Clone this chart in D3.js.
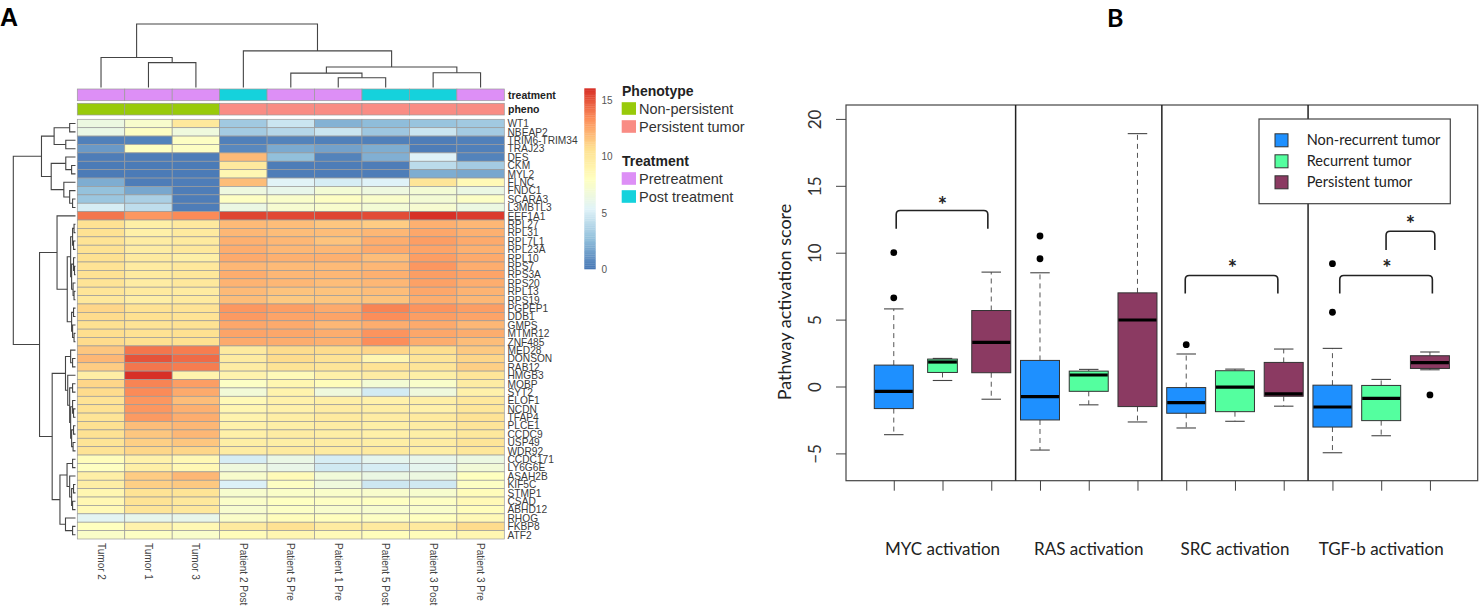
<!DOCTYPE html>
<html lang="en">
<head>
    <meta charset="UTF-8" />
    <title>Heatmap and pathway activation</title>
    <style>
        html, body { margin: 0; padding: 0; background: white; }
        svg { display: block; }
        .hm text { font-family: "Liberation Sans", Arial, sans-serif; }
        .bp text { font-family: Lato, "Open Sans", sans-serif; }
    </style>
</head>
<body>
    <svg id="svg" width="1482" height="613"></svg>
    <script src="https://cdn.jsdelivr.net/npm/d3@7"></script>
    <script>
        // ---------- panel A data ----------
        const genes = ["WT1", "NBEAP2", "TRIM6-TRIM34", "TRAJ23", "DES", "CKM", "MYL2", "FLNC", "FNDC1", "SCARA3",
            "L3MBTL3", "EEF1A1", "RPL27", "RPL31", "RPL7L1", "RPL23A", "RPL10", "RPS7", "RPS3A", "RPS20",
            "RPL13", "RPS19", "PGPEP1", "DDB1", "GMPS", "MTMR12", "ZNF485", "MED28", "DONSON", "RAB12",
            "HMGB3", "MOBP", "SYT2", "ELOF1", "NCDN", "TFAP4", "PLCE1", "CCDC9", "USP49", "WDR92",
            "CCDC171", "LY6G6E", "ASAH2B", "KIF5C", "STMP1", "CSAD", "ABHD12", "RHOG", "FKBP8", "ATF2"];
        const samples = ["Tumor 2", "Tumor 1", "Tumor 3", "Patient 2 Post", "Patient 5 Pre", "Patient 1 Pre",
            "Patient 5 Post", "Patient 3 Post", "Patient 3 Pre"];
        const treatment = ["Pre", "Pre", "Pre", "Post", "Pre", "Pre", "Post", "Post", "Pre"];
        const pheno = ["Non", "Non", "Non", "Persist", "Persist", "Persist", "Persist", "Persist", "Persist"];
        const expression = [
            [6.4, 7.4, 10.0, 3.2, 4.6, 2.2, 2.6, 2.9, 3.2],
            [6.2, 7.8, 6.6, 3.3, 3.9, 4.6, 3.1, 4.6, 3.3],
            [0.4, 0.5, 7.8, 0.4, 0.5, 0.4, 0.4, 0.3, 0.4],
            [1.3, 7.9, 7.8, 0.7, 1.9, 1.6, 2.0, 0.3, 0.4],
            [0.3, 0.3, 0.3, 11.9, 2.7, 0.5, 2.1, 5.3, 0.5],
            [0.2, 0.2, 0.2, 9.9, 0.3, 0.3, 0.3, 4.1, 3.3],
            [0.2, 0.2, 0.2, 8.7, 0.3, 0.3, 0.3, 2.0, 1.8],
            [2.0, 0.3, 0.3, 11.8, 5.4, 5.0, 5.3, 10.2, 8.5],
            [2.8, 1.8, 0.3, 6.5, 6.0, 7.0, 6.5, 7.0, 6.3],
            [3.0, 3.5, 0.3, 7.8, 7.5, 7.8, 7.5, 7.0, 7.7],
            [5.0, 4.2, 0.3, 6.3, 7.2, 7.4, 7.0, 7.2, 6.4],
            [14.0, 13.0, 13.4, 15.4, 15.3, 15.4, 15.2, 16.0, 15.7],
            [10.5, 9.4, 9.9, 11.9, 11.8, 11.5, 11.3, 12.2, 12.0],
            [10.5, 9.3, 9.8, 12.0, 11.8, 11.8, 12.0, 12.5, 12.2],
            [10.4, 9.6, 9.8, 12.2, 12.0, 11.6, 12.3, 12.8, 12.4],
            [10.5, 9.6, 10.0, 12.3, 12.0, 12.0, 12.4, 12.6, 12.2],
            [10.6, 9.8, 9.4, 12.4, 12.2, 12.2, 11.8, 12.8, 12.4],
            [10.4, 9.7, 10.0, 12.0, 11.9, 11.9, 12.0, 13.0, 12.3],
            [10.5, 9.8, 10.1, 12.3, 12.0, 12.0, 12.2, 12.8, 12.6],
            [10.3, 9.6, 10.0, 12.1, 12.0, 11.8, 12.0, 12.7, 12.3],
            [10.2, 9.8, 9.7, 11.9, 11.6, 11.6, 11.8, 12.5, 12.1],
            [10.0, 9.5, 9.8, 11.8, 11.4, 11.5, 11.6, 12.3, 12.0],
            [11.0, 10.5, 10.4, 13.0, 12.8, 12.4, 13.6, 13.1, 12.8],
            [10.8, 10.6, 10.4, 12.9, 12.6, 12.6, 13.3, 12.8, 12.6],
            [10.6, 10.4, 10.5, 12.5, 12.4, 12.0, 12.3, 12.4, 12.0],
            [10.7, 10.5, 10.6, 12.6, 12.5, 12.3, 13.1, 12.5, 12.3],
            [10.8, 10.6, 10.6, 12.4, 12.3, 12.2, 13.3, 12.3, 11.8],
            [11.5, 14.0, 13.8, 9.8, 10.8, 10.8, 11.0, 10.7, 11.4],
            [12.0, 15.0, 14.3, 9.7, 10.8, 10.4, 8.8, 10.2, 11.0],
            [11.3, 14.0, 13.8, 9.6, 10.4, 10.2, 10.4, 10.2, 11.2],
            [9.5, 16.0, 9.0, 9.0, 8.4, 9.3, 9.6, 9.4, 10.2],
            [11.0, 13.6, 12.8, 7.7, 8.8, 8.3, 7.0, 7.5, 9.6],
            [10.8, 13.4, 12.4, 6.9, 9.0, 6.6, 4.9, 6.6, 9.2],
            [10.4, 13.0, 11.8, 8.5, 9.2, 9.4, 9.2, 9.4, 10.0],
            [10.5, 13.0, 12.2, 8.8, 9.2, 9.6, 9.5, 9.2, 10.1],
            [10.3, 12.9, 12.3, 9.0, 9.5, 9.8, 9.6, 9.8, 10.4],
            [10.6, 11.8, 12.0, 9.2, 9.4, 9.6, 9.4, 9.6, 10.2],
            [10.5, 11.5, 12.0, 9.3, 9.6, 9.5, 9.3, 9.4, 10.0],
            [10.3, 11.2, 11.5, 9.5, 9.5, 9.6, 9.5, 9.6, 10.2],
            [10.4, 11.0, 11.0, 9.6, 9.8, 9.7, 9.8, 9.5, 10.1],
            [8.2, 9.2, 8.6, 5.0, 6.2, 5.0, 5.8, 6.0, 6.4],
            [7.9, 9.4, 8.6, 6.6, 6.1, 4.8, 5.0, 5.8, 6.9],
            [9.4, 11.3, 12.0, 7.4, 8.4, 6.8, 6.3, 6.4, 8.0],
            [9.5, 11.2, 11.4, 5.2, 7.8, 6.6, 4.7, 4.8, 7.8],
            [8.8, 10.4, 10.3, 7.3, 7.6, 7.5, 7.4, 7.3, 8.3],
            [8.7, 10.4, 10.0, 7.6, 7.9, 7.8, 7.9, 7.8, 8.5],
            [8.5, 10.2, 10.0, 7.3, 7.7, 7.4, 7.3, 7.5, 8.2],
            [5.6, 5.9, 6.0, 7.6, 8.2, 8.1, 7.8, 8.0, 8.5],
            [8.0, 9.1, 8.6, 9.8, 10.5, 9.7, 9.8, 9.9, 10.8],
            [7.6, 7.8, 7.5, 8.3, 8.8, 8.4, 8.2, 8.3, 8.8]
        ];
        const colorTicks = [0, 5, 10, 15];

        // dendrograms as [height, left, right]; leaves are row/column indices
        const rowTree = [64,
            [35,
                [22, [6, 0, 1], [10, 2, 3]],
                [25, [10, 4, [4, 5, 6]], [12, 7, [6, 8, [3, 9, 10]]]]],
            [37,
                [19, 11,
                    [8.5,
                        [5, [3, [1.5, 12, 13], [2, 14, 15]], [4, [2, 16, [1, 17, 18]], [2.5, 19, [1.5, 20, 21]]]],
                        [4, [2, 22, 23], [3, 24, [1.5, 25, 26]]]]],
                [24,
                    [10.3, [5, 27, [3, 28, 29]],
                        [8, 30, [6, [3, 31, 32], [5, [3, 33, [2, 34, 35]], [4, [2, 36, 37], [2.5, 38, 39]]]]]],
                    [16, [8.7, [3, 40, 41], [6, 42, [4, [2, 43, 44], [3, 45, 46]]]], [10.3, 47, [3, 48, 49]]]]]];
        const colTree = [63,
            [29.7, 0, [24.7, 1, 2]],
            [36.3, 3, [20.3, [14.3, 4, [9.7, 5, 6]], [14.7, 7, 8]]]];

        // ---------- panel B data ----------
        const pathways = ["MYC activation", "RAS activation", "SRC activation", "TGF-b activation"];
        const groups = ["Non-recurrent tumor", "Recurrent tumor", "Persistent tumor"];
        // boxes in order pathway x group
        const whiskerLow = [-3.6, 0.45, -0.95, -4.75, -1.37, -2.65, -3.1, -2.6, -1.47, -4.95, -3.68, 1.25];
        const quartile1 = [-1.65, 1.05, 1.03, -2.5, -0.36, -1.5, -2.0, -1.88, -0.73, -3.03, -2.55, 1.35];
        const medians = [-0.37, 1.83, 3.3, -0.75, 0.86, 4.97, -1.2, -0.05, -0.55, -1.53, -0.88, 1.78];
        const quartile3 = [1.6, 2.05, 5.68, 1.95, 1.15, 7.0, -0.08, 1.18, 1.8, 0.1, 0.08, 2.3];
        const whiskerHigh = [5.8, 2.1, 8.55, 8.5, 1.28, 18.9, 2.43, 1.3, 2.8, 2.85, 0.53, 2.58];
        const outliers = [[10.0, 6.63], [], [], [11.25, 9.55], [], [], [3.13], [], [], [9.18, 5.55], [], [-0.63]];
        // significance brackets: [x1, x2, top, legEnd, starX, starY]
        const brackets = [
            [1.05, 2.93, 13.15, 11.8, 2.0, 13.8],
            [6.98, 8.88, 8.3, 6.95, 7.95, 9.1],
            [10.15, 12.05, 8.3, 6.95, 11.12, 9.1],
            [11.1, 12.1, 11.6, 10.2, 11.6, 12.35]
        ];
        const yTicks = [-5, 0, 5, 10, 15, 20];

        const svg = d3.select("#svg");

        // ======================= A: heatmap =======================
        const hm = svg.append("g").attr("class", "hm");

        hm.append("text").attr("x", 0).attr("y", 26)
            .attr("font-size", 25).attr("font-weight", "bold").text("A");

        const x = d3.scaleBand().domain(d3.range(samples.length)).range([77.3, 504.3]);
        const y = d3.scaleBand().domain(d3.range(genes.length)).range([119.3, 539]);
        const rdylbu = ["#4575B4", "#91BFDB", "#E0F3F8", "#FFFFBF", "#FEE090", "#FC8D59", "#D73027"];
        const color = d3.scaleLinear()
            .domain(d3.range(7).map(i => i * 16 / 6))
            .range(rdylbu).clamp(true);

        const cellStroke = "#9a9a9a";

        expression.forEach((row, i) => {
            hm.selectAll(null)
                .data(row)
                .enter()
                .append("rect")
                .attr("x", (d, j) => x(j))
                .attr("y", y(i))
                .attr("width", x.bandwidth())
                .attr("height", y.bandwidth())
                .attr("fill", d => color(d))
                .attr("stroke", cellStroke)
                .attr("stroke-width", 0.7);
        });

        // annotation rows
        const treatColor = { Pre: "#DD8FF6", Post: "#15D2DC" };
        const phenoColor = { Non: "#98CA0A", Persist: "#F98C84" };
        const annRows = [
            { key: "treatment", vals: treatment, col: treatColor, top: 89 },
            { key: "pheno", vals: pheno, col: phenoColor, top: 103.3 }
        ];
        annRows.forEach(a => {
            hm.selectAll(null)
                .data(a.vals)
                .enter()
                .append("rect")
                .attr("x", (d, j) => x(j))
                .attr("y", a.top)
                .attr("width", x.bandwidth())
                .attr("height", 11.7)
                .attr("fill", d => a.col[d])
                .attr("stroke", cellStroke)
                .attr("stroke-width", 0.7);
            hm.append("text")
                .attr("x", 508).attr("y", a.top + 9.5)
                .attr("font-size", 10.5).attr("font-weight", "bold")
                .attr("fill", "#222")
                .text(a.key);
        });

        // gene labels
        hm.selectAll(".gene")
            .data(genes)
            .enter()
            .append("text")
            .attr("class", "gene")
            .attr("x", 507.5)
            .attr("y", (d, i) => y(i) + y.bandwidth() / 2 + 3.8)
            .attr("font-size", 10.2)
            .attr("fill", "#3a3a3a")
            .text(d => d);

        // sample labels
        hm.selectAll(".sample")
            .data(samples)
            .enter()
            .append("text")
            .attr("class", "sample")
            .attr("transform", (d, j) => `translate(${x(j) + x.bandwidth() / 2 - 3.5},543) rotate(90)`)
            .attr("font-size", 10)
            .attr("fill", "#444")
            .text(d => d);

        // dendrograms
        function layout(node, leafPos, segs) {
            if (typeof node === "number") return { pos: leafPos(node), h: 0 };
            const a = layout(node[1], leafPos, segs);
            const b = layout(node[2], leafPos, segs);
            segs.push({ a, b, h: node[0] });
            return { pos: (a.pos + b.pos) / 2, h: node[0] };
        }

        const rowSegs = [];
        layout(rowTree, i => y(i) + y.bandwidth() / 2, rowSegs);
        const rowH = d3.scaleLinear().domain([0, 64]).range([75.5, 13.3]);
        hm.selectAll(".rowdend")
            .data(rowSegs)
            .enter()
            .append("path")
            .attr("d", s => `M${rowH(s.a.h)},${s.a.pos}H${rowH(s.h)}V${s.b.pos}H${rowH(s.b.h)}`)
            .attr("fill", "none")
            .attr("stroke", "#444")
            .attr("stroke-width", 1.1);

        const colSegs = [];
        layout(colTree, j => x(j) + x.bandwidth() / 2, colSegs);
        const colH = d3.scaleLinear().domain([0, 63]).range([87.5, 24]);
        hm.selectAll(".coldend")
            .data(colSegs)
            .enter()
            .append("path")
            .attr("d", s => `M${s.a.pos},${colH(s.a.h)}V${colH(s.h)}H${s.b.pos}V${colH(s.b.h)}`)
            .attr("fill", "none")
            .attr("stroke", "#444")
            .attr("stroke-width", 1.1);

        // colour bar
        const cbar = d3.scaleLinear().domain([0, 16]).range([269, 88.3]);
        const steps = d3.range(0, 16, 0.16);
        hm.selectAll(".cb")
            .data(steps)
            .enter()
            .append("rect")
            .attr("x", 584.3)
            .attr("y", d => cbar(d + 0.16))
            .attr("width", 11.4)
            .attr("height", d => cbar(d) - cbar(d + 0.16) + 0.3)
            .attr("fill", d => color(d + 0.08));
        hm.selectAll(".cbt")
            .data(colorTicks)
            .enter()
            .append("text")
            .attr("x", 601.5)
            .attr("y", d => cbar(d) + 4)
            .attr("font-size", 10)
            .attr("fill", "#555")
            .text(d => d);

        // annotation legend
        const annLegend = [
            { title: "Phenotype", y: 91, items: [["Non-persistent", phenoColor.Non], ["Persistent tumor", phenoColor.Persist]] },
            { title: "Treatment", y: 161, items: [["Pretreatment", treatColor.Pre], ["Post treatment", treatColor.Post]] }
        ];
        annLegend.forEach(L => {
            hm.append("text")
                .attr("x", 622).attr("y", L.y + 5)
                .attr("font-family", "Lato, sans-serif")
                .attr("font-size", 14).attr("font-weight", "bold")
                .attr("fill", "#222")
                .text(L.title);
            L.items.forEach((it, k) => {
                const cy = L.y + 17.5 + k * 18;
                hm.append("rect")
                    .attr("x", 621.7).attr("y", cy - 6.3)
                    .attr("width", 14.3).attr("height", 12.6)
                    .attr("fill", it[1]);
                hm.append("text")
                    .attr("x", 639).attr("y", cy + 5)
                    .attr("font-family", "Lato, sans-serif")
                    .attr("font-size", 14.5)
                    .attr("fill", "#333")
                    .text(it[0]);
            });
        });

        // ======================= B: boxplot =======================
        const bp = svg.append("g").attr("class", "bp");
        bp.append("text").attr("x", 1107).attr("y", 27)
            .attr("font-family", "Liberation Sans, Arial, sans-serif")
            .attr("font-size", 25).attr("font-weight", "bold").text("B");

        const plot = { left: 846, right: 1477.7, top: 105, bottom: 480.7 };
        const xs = d3.scaleLinear().domain([0.02, 12.98]).range([plot.left, plot.right]);
        const ys = d3.scaleLinear().domain([-7.04, 21.04]).range([plot.bottom, plot.top]);
        const boxColors = ["#1E90FF", "#54FF9F", "#8B3A62"];
        const unit = xs(1) - xs(0);

        const boxes = medians.map((m, k) => ({
            pos: k + 1,
            group: k % 3,
            lo: whiskerLow[k], q1: quartile1[k], med: m, q3: quartile3[k], hi: whiskerHigh[k],
            out: outliers[k],
            wex: k === 1 ? 0.61 : 0.8
        }));

        // whiskers (dashed)
        bp.selectAll(".wu")
            .data(boxes.filter(b => b.hi > b.q3 + 0.05))
            .enter()
            .append("line")
            .attr("x1", b => xs(b.pos)).attr("x2", b => xs(b.pos))
            .attr("y1", b => ys(b.q3)).attr("y2", b => ys(b.hi))
            .attr("stroke", "#555").attr("stroke-dasharray", "5,4");
        bp.selectAll(".wl")
            .data(boxes.filter(b => b.lo < b.q1 - 0.05))
            .enter()
            .append("line")
            .attr("x1", b => xs(b.pos)).attr("x2", b => xs(b.pos))
            .attr("y1", b => ys(b.q1)).attr("y2", b => ys(b.lo))
            .attr("stroke", "#555").attr("stroke-dasharray", "5,4");

        // staples
        ["hi", "lo"].forEach(key => {
            bp.selectAll(".st" + key)
                .data(boxes)
                .enter()
                .append("line")
                .attr("x1", b => xs(b.pos - 0.2)).attr("x2", b => xs(b.pos + 0.2))
                .attr("y1", b => ys(b[key])).attr("y2", b => ys(b[key]))
                .attr("stroke", "#444").attr("stroke-width", 1.1);
        });

        // boxes
        bp.selectAll(".box")
            .data(boxes)
            .enter()
            .append("rect")
            .attr("x", b => xs(b.pos) - b.wex * unit / 2)
            .attr("y", b => ys(b.q3))
            .attr("width", b => b.wex * unit)
            .attr("height", b => ys(b.q1) - ys(b.q3))
            .attr("fill", b => boxColors[b.group])
            .attr("stroke", "#333")
            .attr("stroke-width", 1);

        bp.selectAll(".med")
            .data(boxes)
            .enter()
            .append("line")
            .attr("x1", b => xs(b.pos) - b.wex * unit / 2 + 0.5)
            .attr("x2", b => xs(b.pos) + b.wex * unit / 2 - 0.5)
            .attr("y1", b => ys(b.med)).attr("y2", b => ys(b.med))
            .attr("stroke", "black").attr("stroke-width", 3.2);

        bp.selectAll(".out")
            .data(boxes.flatMap(b => b.out.map(v => ({ pos: b.pos, v }))))
            .enter()
            .append("circle")
            .attr("cx", d => xs(d.pos))
            .attr("cy", d => ys(d.v))
            .attr("r", 3.4)
            .attr("fill", "black");

        // frame and separators
        bp.append("rect")
            .attr("x", plot.left).attr("y", plot.top)
            .attr("width", plot.right - plot.left).attr("height", plot.bottom - plot.top)
            .attr("fill", "none").attr("stroke", "#444").attr("stroke-width", 1.2);
        bp.selectAll(".sep")
            .data([3.5, 6.5, 9.5])
            .enter()
            .append("line")
            .attr("x1", d => xs(d)).attr("x2", d => xs(d))
            .attr("y1", plot.top).attr("y2", plot.bottom)
            .attr("stroke", "#222").attr("stroke-width", 1.5);

        // y axis
        const yAxis = bp.append("g")
            .attr("transform", `translate(${plot.left},0)`)
            .call(d3.axisLeft(ys).tickValues(yTicks).tickSize(10).tickPadding(0).tickFormat(d3.format("d")));
        yAxis.select(".domain").remove();
        yAxis.selectAll("line").attr("stroke", "#444");
        yAxis.selectAll("text")
            .attr("transform", "translate(-31,0) rotate(-90)")
            .attr("x", 0).attr("y", 0).attr("dy", "0.35em")
            .attr("text-anchor", "middle")
            .attr("font-family", "Lato, sans-serif")
            .attr("font-size", 17).attr("fill", "#333");

        bp.append("text")
            .attr("transform", "translate(791,302) rotate(-90)")
            .attr("text-anchor", "middle")
            .attr("font-size", 18).attr("fill", "#222")
            .text("Pathway activation score");

        // x axis
        const xAxis = bp.append("g")
            .attr("transform", `translate(0,${plot.bottom})`)
            .call(d3.axisBottom(xs).tickValues(d3.range(1, 13)).tickSize(10).tickFormat(""));
        xAxis.select(".domain").remove();
        xAxis.selectAll("line").attr("stroke", "#444");

        bp.selectAll(".cat")
            .data(pathways)
            .enter()
            .append("text")
            .attr("x", (d, i) => xs(i * 3 + 2))
            .attr("y", 555)
            .attr("text-anchor", "middle")
            .attr("font-size", 17).attr("fill", "#222")
            .text(d => d);

        // significance brackets
        const r = 4;
        bp.selectAll(".br")
            .data(brackets)
            .enter()
            .append("path")
            .attr("d", b => {
                const x1 = xs(b[0]), x2 = xs(b[1]), yt = ys(b[2]), yl = ys(b[3]);
                return `M${x1},${yl}V${yt + r}Q${x1},${yt} ${x1 + r},${yt}H${x2 - r}Q${x2},${yt} ${x2},${yt + r}V${yl}`;
            })
            .attr("fill", "none")
            .attr("stroke", "#222")
            .attr("stroke-width", 1.6);
        bp.selectAll(".star")
            .data(brackets)
            .enter()
            .append("text")
            .attr("x", b => xs(b[4]))
            .attr("y", b => ys(b[5]) + 11)
            .attr("text-anchor", "middle")
            .attr("font-size", 22).attr("font-weight", "bold").attr("fill", "#222")
            .text("*");

        // legend
        const lg = bp.append("g");
        lg.append("rect")
            .attr("x", 1259).attr("y", 119)
            .attr("width", 191.3).attr("height", 84.7)
            .attr("fill", "white").attr("stroke", "#444").attr("stroke-width", 1.2);
        groups.forEach((g, k) => {
            const cy = 140.3 + k * 21;
            lg.append("rect")
                .attr("x", 1275).attr("y", cy - 6.5)
                .attr("width", 13).attr("height", 13)
                .attr("fill", boxColors[k]).attr("stroke", "#333");
            lg.append("text")
                .attr("x", 1306.7).attr("y", cy + 5)
                .attr("font-size", 14.5).attr("fill", "#222")
                .text(g);
        });
    </script>
</body>
</html>
